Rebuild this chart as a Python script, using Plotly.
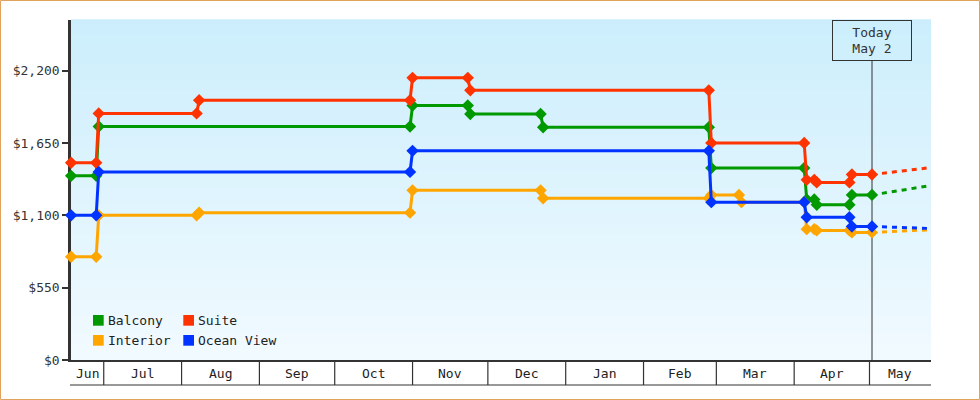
import pandas as pd
import plotly.graph_objects as go

# cabin price observations, one list of dates + one list of prices per series
balcony_dates = ['2023-06-18', '2023-06-28', '2023-06-29', '2023-10-31', '2023-11-01',
                 '2023-11-23', '2023-11-24', '2023-12-22', '2023-12-23', '2024-02-27',
                 '2024-02-28', '2024-04-05', '2024-04-06', '2024-04-09', '2024-04-10',
                 '2024-04-23', '2024-04-24', '2024-05-02']
balcony_price = [1400, 1400, 1775, 1775, 1935, 1935, 1870, 1870, 1770, 1770,
                 1460, 1460, 1220, 1220, 1180, 1180, 1255, 1255]

suite_dates = ['2023-06-18', '2023-06-28', '2023-06-29', '2023-08-07', '2023-08-08',
               '2023-10-31', '2023-11-01', '2023-11-23', '2023-11-24', '2024-02-27',
               '2024-02-28', '2024-04-05', '2024-04-06', '2024-04-09', '2024-04-10',
               '2024-04-23', '2024-04-24', '2024-05-02']
suite_price = [1500, 1500, 1875, 1875, 1975, 1975, 2145, 2145, 2050, 2050,
               1650, 1650, 1370, 1370, 1350, 1350, 1410, 1410]

interior_dates = ['2023-06-18', '2023-06-28', '2023-06-29', '2023-08-07', '2023-08-08',
                  '2023-10-31', '2023-11-01', '2023-12-22', '2023-12-23', '2024-02-27',
                  '2024-02-28', '2024-03-10', '2024-03-11', '2024-04-05', '2024-04-06',
                  '2024-04-09', '2024-04-10', '2024-04-23', '2024-04-24', '2024-05-02']
interior_price = [785, 785, 1100, 1100, 1120, 1120, 1290, 1290, 1230, 1230,
                  1255, 1255, 1200, 1200, 995, 995, 985, 985, 970, 970]

ocean_dates = ['2023-06-18', '2023-06-28', '2023-06-29', '2023-10-31', '2023-11-01',
               '2024-02-27', '2024-02-28', '2024-04-05', '2024-04-06', '2024-04-23',
               '2024-04-24', '2024-05-02']
ocean_price = [1100, 1100, 1430, 1430, 1590, 1590, 1200, 1200, 1085, 1085, 1015, 1015]

# forecast from today to the end of the window
today = '2024-05-02'
forecast_end_date = '2024-05-25'
forecast_end_price = [1325, 1462, 990, 1000]   # balcony, suite, interior, ocean view

names = ['Balcony', 'Suite', 'Interior', 'Ocean View']
colors = ['#009900', '#FF3300', '#FFA500', '#0033FF']
all_dates = [balcony_dates, suite_dates, interior_dates, ocean_dates]
all_prices = [balcony_price, suite_price, interior_price, ocean_price]

month_names = ['Jun', 'Jul', 'Aug', 'Sep', 'Oct', 'Nov', 'Dec', 'Jan', 'Feb', 'Mar', 'Apr', 'May']
month_starts = pd.date_range('2023-06-01', periods=13, freq='MS')

y_ticks = [0, 550, 1100, 1650, 2200]

x_start = pd.Timestamp('2023-06-17 23:00')
x_end = pd.Timestamp('2024-05-25 12:00')

W, H = 980, 400
L, R, T, B = 71, 49, 20, 40
PW, PH = W - L - R, H - T - B
FONT = 'DejaVu Sans Mono'
INK = '#333333'

fig = go.Figure()

for name, c, d, p, fe in zip(names, colors, all_dates, all_prices, forecast_end_price):
    fig.add_trace(go.Scatter(x=[today, forecast_end_date], y=[p[-1], fe], mode='lines',
                             line=dict(color=c, width=3,
                                       dash='0px,10px' + ',5px,5px' * 6),
                             showlegend=False, hoverinfo='skip'))
    fig.add_trace(go.Scatter(x=d, y=p, mode='lines+markers', name=name,
                             line=dict(color=c, width=3),
                             marker=dict(symbol='diamond', size=9.5, color=c),
                             cliponaxis=False, showlegend=False))

shapes = []
# background gradient, light blue at the top fading to near white
top = (204, 238, 252)
bot = (241, 250, 255)
n = 68
for i in range(n):
    f = i / (n - 1)
    col = tuple(round(top[k] + (bot[k] - top[k]) * f) for k in range(3))
    shapes.append(dict(type='rect', xref='paper', yref='paper', x0=0, x1=1,
                       y0=1 - (i + 1) / n, y1=1 - i / n + 0.002,
                       fillcolor='rgb(%d,%d,%d)' % col, line=dict(width=0), layer='below'))

# today marker line
shapes.append(dict(type='line', xref='x', yref='paper', x0=today, x1=today,
                   y0=0, y1=(PH - 40.5) / PH, line=dict(color=INK, width=1), layer='below'))

# month table under the axis
row_h = 25 / PH
shapes.append(dict(type='line', xref='paper', yref='paper', x0=-1 / PW, x1=1,
                   y0=-row_h, y1=-row_h, line=dict(color=INK, width=1.2)))
for ms in month_starts[1:-1]:
    shapes.append(dict(type='line', xref='x', yref='paper', x0=ms, x1=ms,
                       y0=0, y1=-row_h, line=dict(color=INK, width=1.2)))

# outer frame
shapes.append(dict(type='rect', xref='paper', yref='paper',
                   x0=(0.5 - L) / PW, x1=(W - 0.5 - L) / PW,
                   y0=-(B - 0.5) / PH, y1=1 + (T - 0.5) / PH,
                   line=dict(color='#E0A35C', width=1)))

annotations = []
for i, m in enumerate(month_names):
    a = max(x_start, month_starts[i])
    b = min(x_end, month_starts[i + 1])
    mid = a + (b - a) / 2
    annotations.append(dict(x=mid.strftime('%Y-%m-%d %H:%M:%S'), y=-13 / PH, xref='x', yref='paper',
                            text=m, showarrow=False, xanchor='center', yanchor='middle',
                            font=dict(family=FONT, size=13, color='#222222')))

annotations.append(dict(x=today, y=1, xref='x', yref='paper', yanchor='top', xanchor='center',
                        text='Today<br>May 2', showarrow=False, align='center',
                        width=70, height=31, borderpad=4, bordercolor=INK, borderwidth=1,
                        font=dict(family=FONT, size=13, color=INK)))

# legend drawn as two columns of coloured squares
for i, (name, c) in enumerate(zip(names, colors)):
    px = 93 + (i % 2) * 90.3
    py = 315 + (i // 2) * 20
    shapes.append(dict(type='rect', xref='paper', yref='paper',
                       x0=(px - L) / PW, x1=(px + 10.7 - L) / PW,
                       y0=(PH + T - py - 10.7) / PH, y1=(PH + T - py) / PH,
                       fillcolor=c, line=dict(width=0)))
    annotations.append(dict(x=(px + 13 - L) / PW, y=(PH + T - py - 5.3) / PH,
                            xref='paper', yref='paper', text=name, showarrow=False,
                            xanchor='left', yanchor='middle',
                            font=dict(family=FONT, size=13, color='#222222')))

fig.update_layout(
    width=W, height=H, autosize=False,
    margin=dict(l=L, r=R, t=T, b=B),
    paper_bgcolor='white', plot_bgcolor='white',
    shapes=shapes, annotations=annotations,
    font=dict(family=FONT, size=13, color=INK),
    xaxis=dict(type='date', range=[x_start, x_end], showticklabels=False, ticks='',
               showgrid=False, zeroline=False, showline=True, linecolor=INK, linewidth=2,
               layer='below traces'),
    yaxis=dict(range=[0, 2585], tickvals=y_ticks,
               ticktext=['${:,}'.format(v) for v in y_ticks],
               ticks='outside', ticklen=6, tickwidth=2, tickcolor=INK,
               showgrid=False, zeroline=False, showline=True, linecolor=INK, linewidth=2.5,
               layer='below traces', tickfont=dict(family=FONT, size=13, color=INK)),
)

# the page has a default 8px body margin; remove it so the chart sits at 0,0
fig.write_html('out.html', config={'displayModeBar': False},
               post_script="document.body.style.margin='0';")
